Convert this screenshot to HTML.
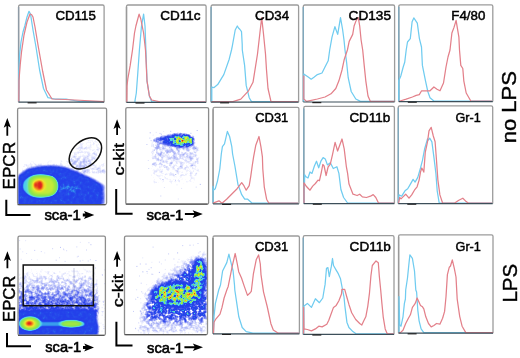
<!DOCTYPE html>
<html><head><meta charset="utf-8"><style>
html,body{margin:0;padding:0;background:#fff;}
body{width:520px;height:358px;overflow:hidden;}
svg{display:block;font-family:"Liberation Sans",sans-serif;will-change:transform;}
</style></head><body>
<svg width="520" height="358" viewBox="0 0 520 358">
<defs>
<filter id="jet" x="-5%" y="-5%" width="110%" height="110%" color-interpolation-filters="sRGB">
<feGaussianBlur stdDeviation="1.3"/>
<feColorMatrix type="matrix" values="0 0 0 1 0 0 0 0 1 0 0 0 0 1 0 0 0 0 1 0"/>
<feComponentTransfer>
<feFuncR type="table" tableValues=".16 .16 .16 .15 .14 .14 .14 .15 .18 .30 .40 .50 .55 .65 .78 .93 .96 .95 .93 .88 .85"/>
<feFuncG type="table" tableValues=".24 .24 .24 .24 .24 .25 .26 .30 .50 .80 .88 .90 .90 .91 .92 .90 .75 .55 .35 .18 .12"/>
<feFuncB type="table" tableValues=".92 .92 .92 .92 .92 .92 .92 .92 .93 .93 .75 .40 .30 .25 .22 .18 .15 .12 .12 .12 .12"/>
<feFuncA type="table" tableValues="0 .3 .55 .75 .9 1 1 1 1 1 1 1 1 1 1 1 1 1 1 1 1"/>
</feComponentTransfer>
</filter>
<filter id="jetn" x="-5%" y="-5%" width="110%" height="110%" color-interpolation-filters="sRGB">
<feTurbulence type="fractalNoise" baseFrequency="0.3" numOctaves="2" seed="4" result="n"/>
<feColorMatrix in="n" type="matrix" values="0 0 0 0 0 0 0 0 0 0 0 0 0 0 0 1 0 0 0 0" result="na"/>
<feGaussianBlur in="SourceGraphic" stdDeviation="1.0" result="b"/>
<feComposite in="b" in2="na" operator="arithmetic" k1="2.2" k2="0" k3="0" k4="-0.04"/>
<feColorMatrix type="matrix" values="0 0 0 1 0 0 0 0 1 0 0 0 0 1 0 0 0 0 1 0"/>
<feComponentTransfer>
<feFuncR type="table" tableValues=".16 .16 .16 .15 .14 .14 .14 .15 .18 .30 .40 .50 .55 .65 .78 .93 .96 .95 .93 .88 .85"/>
<feFuncG type="table" tableValues=".24 .24 .24 .24 .24 .25 .26 .30 .50 .80 .88 .90 .90 .91 .92 .90 .75 .55 .35 .18 .12"/>
<feFuncB type="table" tableValues=".92 .92 .92 .92 .92 .92 .92 .92 .93 .93 .75 .40 .30 .25 .22 .18 .15 .12 .12 .12 .12"/>
<feFuncA type="table" tableValues="0 .3 .55 .75 .9 1 1 1 1 1 1 1 1 1 1 1 1 1 1 1 1"/>
</feComponentTransfer>
</filter>
<filter id="jets" x="-5%" y="-5%" width="110%" height="110%" color-interpolation-filters="sRGB">
<feTurbulence type="fractalNoise" baseFrequency="0.3" numOctaves="2" seed="21" result="n"/>
<feColorMatrix in="n" type="matrix" values="0 0 0 0 0 0 0 0 0 0 0 0 0 0 0 1 0 0 0 0" result="na"/>
<feGaussianBlur in="SourceGraphic" stdDeviation="0.6" result="b"/>
<feComposite in="b" in2="na" operator="arithmetic" k1="4" k2="-1" k3="0" k4="-0.02"/>
<feColorMatrix type="matrix" values="0 0 0 1 0 0 0 0 1 0 0 0 0 1 0 0 0 0 1 0"/>
<feComponentTransfer>
<feFuncR type="table" tableValues=".16 .16 .16 .15 .14 .14 .14 .15 .18 .30 .40 .50 .55 .65 .78 .93 .96 .95 .93 .88 .85"/>
<feFuncG type="table" tableValues=".24 .24 .24 .24 .24 .25 .26 .30 .50 .80 .88 .90 .90 .91 .92 .90 .75 .55 .35 .18 .12"/>
<feFuncB type="table" tableValues=".92 .92 .92 .92 .92 .92 .92 .92 .93 .93 .75 .40 .30 .25 .22 .18 .15 .12 .12 .12 .12"/>
<feFuncA type="table" tableValues="0 .3 .55 .75 .9 1 1 1 1 1 1 1 1 1 1 1 1 1 1 1 1"/>
</feComponentTransfer>
</filter>
<filter id="jetm" x="-5%" y="-5%" width="110%" height="110%" color-interpolation-filters="sRGB">
<feTurbulence type="fractalNoise" baseFrequency="0.3" numOctaves="2" seed="9" result="n"/>
<feColorMatrix in="n" type="matrix" values="0 0 0 0 0 0 0 0 0 0 0 0 0 0 0 1 0 0 0 0" result="na"/>
<feGaussianBlur in="SourceGraphic" stdDeviation="1.0" result="b"/>
<feComposite in="b" in2="na" operator="arithmetic" k1="0.6" k2="0.7" k3="0" k4="-0.005"/>
<feColorMatrix type="matrix" values="0 0 0 1 0 0 0 0 1 0 0 0 0 1 0 0 0 0 1 0"/>
<feComponentTransfer>
<feFuncR type="table" tableValues=".16 .16 .16 .15 .14 .14 .14 .15 .18 .30 .40 .50 .55 .65 .78 .93 .96 .95 .93 .88 .85"/>
<feFuncG type="table" tableValues=".24 .24 .24 .24 .24 .25 .26 .30 .50 .80 .88 .90 .90 .91 .92 .90 .75 .55 .35 .18 .12"/>
<feFuncB type="table" tableValues=".92 .92 .92 .92 .92 .92 .92 .92 .93 .93 .75 .40 .30 .25 .22 .18 .15 .12 .12 .12 .12"/>
<feFuncA type="table" tableValues="0 .3 .55 .75 .9 1 1 1 1 1 1 1 1 1 1 1 1 1 1 1 1"/>
</feComponentTransfer>
</filter>

<clipPath id="c0"><rect x="18.2" y="108.8" width="87.8" height="95.2"/></clipPath>
<clipPath id="c1"><rect x="126.4" y="108.2" width="81.6" height="95.4"/></clipPath>
<clipPath id="c2"><rect x="18.6" y="236.8" width="86.2" height="97.9"/></clipPath>
<clipPath id="c3"><rect x="125.1" y="236.8" width="81.8" height="97.3"/></clipPath>
<linearGradient id="g3" x1="0" y1="0" x2="0" y2="1"><stop offset="0" stop-color="#000" stop-opacity="0.0"/><stop offset="0.2" stop-color="#000" stop-opacity="0.02"/><stop offset="0.5" stop-color="#000" stop-opacity="0.065"/><stop offset="0.8" stop-color="#000" stop-opacity="0.15"/><stop offset="1" stop-color="#000" stop-opacity="0.28"/></linearGradient>
<linearGradient id="gup" x1="0" y1="0" x2="0" y2="1"><stop offset="0" stop-color="#000" stop-opacity="0"/><stop offset="0.5" stop-color="#000" stop-opacity="0.015"/><stop offset="1" stop-color="#000" stop-opacity="0.07"/></linearGradient>
<filter id="bl" x="-10%" y="-10%" width="120%" height="120%"><feGaussianBlur stdDeviation="2"/></filter>
<linearGradient id="gdn" x1="0" y1="0" x2="0" y2="1"><stop offset="0" stop-color="#000" stop-opacity="0.06"/><stop offset="0.4" stop-color="#000" stop-opacity="0.035"/><stop offset="1" stop-color="#000" stop-opacity="0.0"/></linearGradient>
</defs>
<g clip-path="url(#c0)"><g filter="url(#jetn)"><g opacity="0.035"><ellipse cx="85.4" cy="153.4" rx="18" ry="12" transform="rotate(-42 85.4 153.4)"/></g><rect x="22" y="140" width="84" height="34" fill="url(#gup)"/></g></g>
<g clip-path="url(#c0)"><g filter="url(#jetm)"><g opacity="0.200" fill="#000"><path d="M88,178 C95,180 100,183 104,186 L104,204 L88,204 Z"/><path d="M17,205 L17,178 C22,172.5 27,169 34,167.5 C44,166 55,165.5 64,167.5 C74,170.5 84,175 92,179 C96,181 99,183 101,186 L101,205 Z"/><ellipse cx="67" cy="188.5" rx="14" ry="4"/></g><g opacity="0.150" fill="#000"><path d="M17,205 L17,178 C22,172.5 27,169 34,167.5 C44,166 55,165.5 64,167.5 C74,170.5 84,175 92,179 C96,181 99,183 101,186 L101,205 Z"/><ellipse cx="67" cy="188.5" rx="14" ry="4"/></g><g opacity="0.074" fill="#000"><ellipse cx="67" cy="188.5" rx="14" ry="4"/></g></g></g>
<g clip-path="url(#c0)"><g filter="url(#jet)"><g opacity="0.450" fill="#000"><ellipse cx="40.5" cy="186" rx="19" ry="13"/><rect x="27.5" y="175" width="30.5" height="22" rx="8.5"/><rect x="29.5" y="176" width="27.5" height="20" rx="8"/><rect x="31" y="178" width="23" height="16" rx="7"/><ellipse cx="39.5" cy="185.5" rx="6.5" ry="6.2"/><ellipse cx="38.5" cy="185.5" rx="4.6" ry="5.1"/><ellipse cx="40" cy="185.2" rx="2.0" ry="4.0"/><ellipse cx="35.4" cy="184.8" rx="1.3" ry="2.6"/></g><g opacity="0.182" fill="#000"><rect x="27.5" y="175" width="30.5" height="22" rx="8.5"/><rect x="29.5" y="176" width="27.5" height="20" rx="8"/><rect x="31" y="178" width="23" height="16" rx="7"/><ellipse cx="39.5" cy="185.5" rx="6.5" ry="6.2"/><ellipse cx="38.5" cy="185.5" rx="4.6" ry="5.1"/><ellipse cx="40" cy="185.2" rx="2.0" ry="4.0"/><ellipse cx="35.4" cy="184.8" rx="1.3" ry="2.6"/></g><g opacity="0.156" fill="#000"><rect x="29.5" y="176" width="27.5" height="20" rx="8"/><rect x="31" y="178" width="23" height="16" rx="7"/><ellipse cx="39.5" cy="185.5" rx="6.5" ry="6.2"/><ellipse cx="38.5" cy="185.5" rx="4.6" ry="5.1"/><ellipse cx="40" cy="185.2" rx="2.0" ry="4.0"/><ellipse cx="35.4" cy="184.8" rx="1.3" ry="2.6"/></g><g opacity="0.211" fill="#000"><rect x="31" y="178" width="23" height="16" rx="7"/><ellipse cx="39.5" cy="185.5" rx="6.5" ry="6.2"/><ellipse cx="38.5" cy="185.5" rx="4.6" ry="5.1"/><ellipse cx="40" cy="185.2" rx="2.0" ry="4.0"/><ellipse cx="35.4" cy="184.8" rx="1.3" ry="2.6"/></g><g opacity="0.233" fill="#000"><ellipse cx="39.5" cy="185.5" rx="6.5" ry="6.2"/><ellipse cx="38.5" cy="185.5" rx="4.6" ry="5.1"/><ellipse cx="40" cy="185.2" rx="2.0" ry="4.0"/><ellipse cx="35.4" cy="184.8" rx="1.3" ry="2.6"/></g><g opacity="0.435" fill="#000"><ellipse cx="38.5" cy="185.5" rx="4.6" ry="5.1"/><ellipse cx="40" cy="185.2" rx="2.0" ry="4.0"/><ellipse cx="35.4" cy="184.8" rx="1.3" ry="2.6"/></g><g opacity="1.000" fill="#000"><ellipse cx="40" cy="185.2" rx="2.0" ry="4.0"/><ellipse cx="35.4" cy="184.8" rx="1.3" ry="2.6"/></g></g></g>
<ellipse cx="85.4" cy="153.4" rx="18.6" ry="12.6" transform="rotate(-42 85.4 153.4)" fill="none" stroke="#111" stroke-width="1.5"/>
<g clip-path="url(#c1)"><g fill="#3c50e6"><rect x="156.6" y="147.4" width="1.0" height="1.0" opacity="0.24"/><rect x="196.7" y="130.0" width="1.0" height="1.0" opacity="0.37"/><rect x="160.0" y="137.3" width="1.0" height="1.0" opacity="0.34"/><rect x="165.1" y="151.3" width="1.0" height="1.0" opacity="0.13"/><rect x="194.9" y="148.0" width="1.0" height="1.0" opacity="0.32"/><rect x="155.7" y="181.9" width="1.0" height="1.0" opacity="0.17"/><rect x="186.4" y="144.6" width="1.0" height="1.0" opacity="0.37"/><rect x="172.6" y="135.4" width="1.0" height="1.0" opacity="0.36"/><rect x="163.9" y="187.0" width="1.0" height="1.0" opacity="0.14"/><rect x="159.5" y="140.1" width="1.0" height="1.0" opacity="0.29"/><rect x="191.9" y="165.1" width="1.0" height="1.0" opacity="0.34"/><rect x="175.0" y="179.8" width="1.0" height="1.0" opacity="0.26"/><rect x="161.4" y="164.1" width="1.0" height="1.0" opacity="0.23"/><rect x="146.4" y="144.0" width="1.0" height="1.0" opacity="0.31"/><rect x="176.1" y="148.0" width="1.0" height="1.0" opacity="0.26"/><rect x="177.3" y="141.5" width="1.0" height="1.0" opacity="0.29"/><rect x="169.6" y="179.3" width="1.0" height="1.0" opacity="0.16"/><rect x="149.3" y="137.6" width="1.0" height="1.0" opacity="0.27"/><rect x="169.7" y="144.0" width="1.0" height="1.0" opacity="0.25"/><rect x="169.5" y="133.6" width="1.0" height="1.0" opacity="0.21"/><rect x="175.2" y="174.0" width="1.0" height="1.0" opacity="0.38"/><rect x="163.1" y="131.0" width="1.0" height="1.0" opacity="0.11"/><rect x="199.8" y="183.9" width="1.0" height="1.0" opacity="0.40"/><rect x="148.2" y="168.0" width="1.0" height="1.0" opacity="0.23"/><rect x="189.8" y="147.2" width="1.0" height="1.0" opacity="0.37"/><rect x="171.1" y="156.6" width="1.0" height="1.0" opacity="0.36"/><rect x="192.3" y="135.5" width="1.0" height="1.0" opacity="0.30"/><rect x="187.3" y="150.4" width="1.0" height="1.0" opacity="0.21"/><rect x="189.3" y="156.4" width="1.0" height="1.0" opacity="0.31"/><rect x="193.1" y="136.1" width="1.0" height="1.0" opacity="0.32"/><rect x="151.6" y="143.3" width="1.0" height="1.0" opacity="0.17"/><rect x="156.3" y="150.2" width="1.0" height="1.0" opacity="0.33"/><rect x="182.0" y="141.3" width="1.0" height="1.0" opacity="0.20"/><rect x="164.0" y="152.4" width="1.0" height="1.0" opacity="0.19"/><rect x="185.7" y="148.5" width="1.0" height="1.0" opacity="0.32"/><rect x="150.6" y="140.1" width="1.0" height="1.0" opacity="0.30"/><rect x="196.1" y="172.7" width="1.0" height="1.0" opacity="0.17"/><rect x="185.3" y="173.8" width="1.0" height="1.0" opacity="0.20"/><rect x="166.5" y="166.0" width="1.0" height="1.0" opacity="0.31"/><rect x="183.3" y="144.2" width="1.0" height="1.0" opacity="0.17"/><rect x="149.7" y="132.3" width="1.0" height="1.0" opacity="0.40"/><rect x="181.1" y="187.9" width="1.0" height="1.0" opacity="0.16"/><rect x="175.7" y="158.6" width="1.0" height="1.0" opacity="0.31"/><rect x="169.1" y="147.0" width="1.0" height="1.0" opacity="0.37"/><rect x="177.8" y="198.5" width="1.0" height="1.0" opacity="0.17"/><rect x="163.3" y="153.4" width="1.0" height="1.0" opacity="0.37"/><rect x="180.7" y="133.3" width="1.0" height="1.0" opacity="0.37"/><rect x="172.2" y="135.7" width="1.0" height="1.0" opacity="0.19"/><rect x="188.3" y="144.1" width="1.0" height="1.0" opacity="0.17"/><rect x="177.2" y="168.2" width="1.0" height="1.0" opacity="0.28"/><rect x="180.4" y="165.9" width="1.0" height="1.0" opacity="0.28"/><rect x="156.0" y="140.9" width="1.0" height="1.0" opacity="0.25"/><rect x="195.7" y="186.6" width="1.0" height="1.0" opacity="0.22"/><rect x="190.4" y="132.8" width="1.0" height="1.0" opacity="0.37"/><rect x="170.9" y="135.5" width="1.0" height="1.0" opacity="0.40"/><rect x="155.0" y="144.7" width="1.0" height="1.0" opacity="0.24"/><rect x="167.1" y="149.8" width="1.0" height="1.0" opacity="0.15"/><rect x="192.0" y="167.4" width="1.0" height="1.0" opacity="0.22"/><rect x="159.5" y="132.9" width="1.0" height="1.0" opacity="0.28"/><rect x="166.0" y="145.5" width="1.0" height="1.0" opacity="0.11"/><rect x="159.3" y="175.5" width="1.0" height="1.0" opacity="0.23"/><rect x="178.7" y="180.4" width="1.0" height="1.0" opacity="0.22"/><rect x="160.2" y="153.4" width="1.0" height="1.0" opacity="0.25"/><rect x="152.7" y="134.6" width="1.0" height="1.0" opacity="0.13"/><rect x="159.1" y="143.3" width="1.0" height="1.0" opacity="0.28"/><rect x="193.8" y="140.6" width="1.0" height="1.0" opacity="0.13"/><rect x="152.3" y="153.3" width="1.0" height="1.0" opacity="0.27"/><rect x="160.8" y="133.7" width="1.0" height="1.0" opacity="0.37"/><rect x="163.9" y="135.6" width="1.0" height="1.0" opacity="0.25"/><rect x="155.7" y="131.9" width="1.0" height="1.0" opacity="0.14"/><rect x="163.9" y="167.0" width="1.0" height="1.0" opacity="0.16"/><rect x="160.3" y="195.5" width="1.0" height="1.0" opacity="0.27"/><rect x="155.8" y="137.6" width="1.0" height="1.0" opacity="0.21"/><rect x="154.3" y="156.3" width="1.0" height="1.0" opacity="0.11"/><rect x="187.4" y="143.0" width="1.0" height="1.0" opacity="0.31"/><rect x="173.5" y="139.3" width="1.0" height="1.0" opacity="0.38"/><rect x="181.7" y="162.3" width="1.0" height="1.0" opacity="0.23"/><rect x="159.9" y="159.6" width="1.0" height="1.0" opacity="0.37"/><rect x="157.8" y="156.6" width="1.0" height="1.0" opacity="0.22"/><rect x="190.3" y="136.0" width="1.0" height="1.0" opacity="0.29"/><rect x="152.3" y="163.7" width="1.0" height="1.0" opacity="0.36"/><rect x="170.2" y="133.9" width="1.0" height="1.0" opacity="0.24"/><rect x="170.2" y="130.8" width="1.0" height="1.0" opacity="0.35"/><rect x="177.4" y="132.1" width="1.0" height="1.0" opacity="0.19"/><rect x="147.8" y="160.0" width="1.0" height="1.0" opacity="0.18"/><rect x="171.3" y="162.5" width="1.0" height="1.0" opacity="0.35"/><rect x="169.4" y="146.0" width="1.0" height="1.0" opacity="0.21"/><rect x="190.7" y="165.1" width="1.0" height="1.0" opacity="0.22"/><rect x="176.5" y="184.3" width="1.0" height="1.0" opacity="0.13"/><rect x="162.4" y="179.0" width="1.0" height="1.0" opacity="0.40"/></g></g>
<g clip-path="url(#c1)"><g filter="url(#jets)"><g filter="url(#bl)"><path d="M152,150 C150,141 156,138 165,139 C180,141 194,143 199,147 L199,198 L150,198 Z" fill="url(#gdn)"/></g></g></g>
<g clip-path="url(#c1)"><g filter="url(#jetn)"><g opacity="0.160" fill="#000"><path d="M152,140 C158,137 166,134.5 174,134 C181,133.2 188,133.5 192,136.5 C195,139 196,142 195,144.5 C191,147 185,148 179.5,147.6 C173,147 166,145 160,143 C156,142 153,141 152,140 Z"/><path d="M160,140 C166,136.5 172,134.5 178,134.2 C184,134 189,135 192,137.5 C194,140 194,143 192,145 C186,147 180,147.2 175,146.5 C170,145.5 165,143.5 160,140 Z"/><ellipse cx="181" cy="140.5" rx="12.5" ry="5.4"/><ellipse cx="182" cy="140.6" rx="10" ry="4.3"/><ellipse cx="184" cy="140.6" rx="5.5" ry="2.6"/><ellipse cx="185" cy="140.8" rx="3.2" ry="1.7"/></g><g opacity="0.131" fill="#000"><path d="M160,140 C166,136.5 172,134.5 178,134.2 C184,134 189,135 192,137.5 C194,140 194,143 192,145 C186,147 180,147.2 175,146.5 C170,145.5 165,143.5 160,140 Z"/><ellipse cx="181" cy="140.5" rx="12.5" ry="5.4"/><ellipse cx="182" cy="140.6" rx="10" ry="4.3"/><ellipse cx="184" cy="140.6" rx="5.5" ry="2.6"/><ellipse cx="185" cy="140.8" rx="3.2" ry="1.7"/></g><g opacity="0.178" fill="#000"><ellipse cx="181" cy="140.5" rx="12.5" ry="5.4"/><ellipse cx="182" cy="140.6" rx="10" ry="4.3"/><ellipse cx="184" cy="140.6" rx="5.5" ry="2.6"/><ellipse cx="185" cy="140.8" rx="3.2" ry="1.7"/></g><g opacity="0.200" fill="#000"><ellipse cx="182" cy="140.6" rx="10" ry="4.3"/><ellipse cx="184" cy="140.6" rx="5.5" ry="2.6"/><ellipse cx="185" cy="140.8" rx="3.2" ry="1.7"/></g><g opacity="0.208" fill="#000"><ellipse cx="184" cy="140.6" rx="5.5" ry="2.6"/><ellipse cx="185" cy="140.8" rx="3.2" ry="1.7"/></g><g opacity="0.158" fill="#000"><ellipse cx="185" cy="140.8" rx="3.2" ry="1.7"/></g></g></g>
<g clip-path="url(#c2)"><g fill="#3c50e6"><rect x="103.6" y="326.2" width="1.0" height="1.0" opacity="0.30"/><rect x="76.3" y="246.4" width="1.0" height="1.0" opacity="0.24"/><rect x="82.3" y="259.9" width="1.0" height="1.0" opacity="0.15"/><rect x="59.0" y="257.2" width="1.0" height="1.0" opacity="0.18"/><rect x="99.2" y="300.6" width="1.0" height="1.0" opacity="0.27"/><rect x="97.9" y="318.5" width="1.0" height="1.0" opacity="0.16"/><rect x="31.1" y="259.0" width="1.0" height="1.0" opacity="0.14"/><rect x="19.1" y="240.1" width="1.0" height="1.0" opacity="0.18"/><rect x="95.4" y="260.0" width="1.0" height="1.0" opacity="0.32"/><rect x="95.6" y="310.4" width="1.0" height="1.0" opacity="0.27"/><rect x="34.2" y="249.9" width="1.0" height="1.0" opacity="0.29"/><rect x="95.1" y="327.9" width="1.0" height="1.0" opacity="0.21"/><rect x="104.3" y="269.4" width="1.0" height="1.0" opacity="0.12"/><rect x="66.1" y="250.2" width="1.0" height="1.0" opacity="0.20"/><rect x="104.1" y="283.2" width="1.0" height="1.0" opacity="0.25"/><rect x="36.8" y="259.3" width="1.0" height="1.0" opacity="0.11"/><rect x="52.1" y="248.2" width="1.0" height="1.0" opacity="0.25"/><rect x="102.0" y="274.6" width="1.0" height="1.0" opacity="0.28"/><rect x="40.8" y="251.1" width="1.0" height="1.0" opacity="0.23"/><rect x="89.9" y="259.2" width="1.0" height="1.0" opacity="0.21"/><rect x="95.8" y="326.8" width="1.0" height="1.0" opacity="0.34"/><rect x="79.7" y="260.5" width="1.0" height="1.0" opacity="0.32"/><rect x="104.2" y="269.3" width="1.0" height="1.0" opacity="0.13"/><rect x="102.6" y="311.0" width="1.0" height="1.0" opacity="0.18"/><rect x="103.3" y="304.3" width="1.0" height="1.0" opacity="0.27"/><rect x="79.8" y="241.9" width="1.0" height="1.0" opacity="0.15"/><rect x="88.4" y="242.2" width="1.0" height="1.0" opacity="0.24"/><rect x="90.4" y="244.2" width="1.0" height="1.0" opacity="0.35"/><rect x="102.7" y="300.9" width="1.0" height="1.0" opacity="0.31"/><rect x="97.9" y="331.1" width="1.0" height="1.0" opacity="0.29"/><rect x="101.6" y="311.0" width="1.0" height="1.0" opacity="0.20"/><rect x="98.7" y="326.2" width="1.0" height="1.0" opacity="0.30"/><rect x="95.0" y="267.5" width="1.0" height="1.0" opacity="0.26"/><rect x="26.1" y="253.0" width="1.0" height="1.0" opacity="0.14"/><rect x="100.4" y="322.7" width="1.0" height="1.0" opacity="0.10"/><rect x="97.9" y="303.9" width="1.0" height="1.0" opacity="0.29"/><rect x="97.2" y="315.3" width="1.0" height="1.0" opacity="0.26"/><rect x="63.0" y="248.6" width="1.0" height="1.0" opacity="0.25"/><rect x="87.7" y="260.5" width="1.0" height="1.0" opacity="0.25"/><rect x="104.0" y="307.9" width="1.0" height="1.0" opacity="0.14"/><rect x="98.8" y="322.5" width="1.0" height="1.0" opacity="0.12"/><rect x="104.4" y="319.3" width="1.0" height="1.0" opacity="0.21"/><rect x="102.9" y="301.9" width="1.0" height="1.0" opacity="0.24"/><rect x="64.6" y="260.9" width="1.0" height="1.0" opacity="0.23"/><rect x="96.2" y="312.8" width="1.0" height="1.0" opacity="0.15"/><rect x="60.0" y="246.9" width="1.0" height="1.0" opacity="0.35"/><rect x="101.5" y="330.6" width="1.0" height="1.0" opacity="0.13"/><rect x="98.4" y="295.1" width="1.0" height="1.0" opacity="0.26"/><rect x="95.2" y="314.8" width="1.0" height="1.0" opacity="0.30"/><rect x="97.7" y="333.7" width="1.0" height="1.0" opacity="0.10"/><rect x="102.6" y="324.3" width="1.0" height="1.0" opacity="0.19"/><rect x="25.1" y="240.2" width="1.0" height="1.0" opacity="0.15"/><rect x="44.2" y="252.4" width="1.0" height="1.0" opacity="0.13"/><rect x="101.7" y="307.1" width="1.0" height="1.0" opacity="0.16"/><rect x="20.7" y="258.8" width="1.0" height="1.0" opacity="0.15"/><rect x="19.7" y="248.5" width="1.0" height="1.0" opacity="0.19"/><rect x="63.6" y="249.4" width="1.0" height="1.0" opacity="0.15"/><rect x="104.6" y="316.7" width="1.0" height="1.0" opacity="0.27"/><rect x="77.7" y="255.8" width="1.0" height="1.0" opacity="0.30"/><rect x="103.5" y="328.1" width="1.0" height="1.0" opacity="0.34"/><rect x="97.9" y="302.2" width="1.0" height="1.0" opacity="0.11"/><rect x="104.8" y="331.2" width="1.0" height="1.0" opacity="0.21"/><rect x="101.7" y="314.7" width="1.0" height="1.0" opacity="0.19"/><rect x="22.2" y="251.3" width="1.0" height="1.0" opacity="0.14"/><rect x="55.7" y="259.7" width="1.0" height="1.0" opacity="0.31"/><rect x="101.7" y="274.2" width="1.0" height="1.0" opacity="0.15"/><rect x="76.8" y="256.5" width="1.0" height="1.0" opacity="0.16"/><rect x="86.0" y="249.5" width="1.0" height="1.0" opacity="0.26"/><rect x="103.8" y="300.4" width="1.0" height="1.0" opacity="0.19"/><rect x="102.2" y="312.3" width="1.0" height="1.0" opacity="0.16"/></g></g>
<g clip-path="url(#c2)"><g filter="url(#jets)"><g filter="url(#bl)"><rect x="17" y="262" width="80" height="54" fill="url(#g3)"/></g></g></g>
<g clip-path="url(#c2)"><g filter="url(#jetn)"><rect x="17" y="262" width="80" height="54" fill="url(#g3)" opacity="0.5"/></g></g>
<g clip-path="url(#c2)"><g filter="url(#jetm)"><g opacity="0.320" fill="#000"><path d="M17,336 L17,311 C40,309.5 70,309.5 95,310 C97,316 96,322 98,327 C98,331 97,334 97,336 Z"/></g></g></g>
<g clip-path="url(#c2)"><g filter="url(#jet)"><g opacity="0.420" fill="#000"><ellipse cx="30" cy="323.5" rx="12.5" ry="8.5"/><rect x="38" y="320.5" width="48" height="7" rx="3.5"/><ellipse cx="71" cy="323.8" rx="15" ry="5"/><ellipse cx="30" cy="323.6" rx="11" ry="7.2"/><ellipse cx="71.5" cy="323.8" rx="12" ry="3.8"/><ellipse cx="30" cy="323.7" rx="9" ry="6"/><ellipse cx="71.5" cy="323.9" rx="9.5" ry="2.6"/><ellipse cx="29.8" cy="323.6" rx="6" ry="4"/><ellipse cx="29.5" cy="323.4" rx="3.8" ry="2.5"/><ellipse cx="29.2" cy="323.3" rx="2.4" ry="1.5"/></g><g opacity="0.172" fill="#000"><ellipse cx="30" cy="323.6" rx="11" ry="7.2"/><ellipse cx="71.5" cy="323.8" rx="12" ry="3.8"/><ellipse cx="30" cy="323.7" rx="9" ry="6"/><ellipse cx="71.5" cy="323.9" rx="9.5" ry="2.6"/><ellipse cx="29.8" cy="323.6" rx="6" ry="4"/><ellipse cx="29.5" cy="323.4" rx="3.8" ry="2.5"/><ellipse cx="29.2" cy="323.3" rx="2.4" ry="1.5"/></g><g opacity="0.250" fill="#000"><ellipse cx="30" cy="323.7" rx="9" ry="6"/><ellipse cx="71.5" cy="323.9" rx="9.5" ry="2.6"/><ellipse cx="29.8" cy="323.6" rx="6" ry="4"/><ellipse cx="29.5" cy="323.4" rx="3.8" ry="2.5"/><ellipse cx="29.2" cy="323.3" rx="2.4" ry="1.5"/></g><g opacity="0.333" fill="#000"><ellipse cx="29.8" cy="323.6" rx="6" ry="4"/><ellipse cx="29.5" cy="323.4" rx="3.8" ry="2.5"/><ellipse cx="29.2" cy="323.3" rx="2.4" ry="1.5"/></g><g opacity="0.500" fill="#000"><ellipse cx="29.5" cy="323.4" rx="3.8" ry="2.5"/><ellipse cx="29.2" cy="323.3" rx="2.4" ry="1.5"/></g><g opacity="1.000" fill="#000"><ellipse cx="29.2" cy="323.3" rx="2.4" ry="1.5"/></g></g></g>
<line x1="74" y1="268" x2="74" y2="305" stroke="#9aa0c8" stroke-width="0.8" opacity="0.7"/>
<rect x="23.2" y="265" width="70.2" height="40.7" fill="none" stroke="#111" stroke-width="1.5"/>
<g clip-path="url(#c3)"><g fill="#3c50e6"><rect x="188.5" y="302.5" width="1.0" height="1.0" opacity="0.10"/><rect x="140.7" y="282.7" width="1.0" height="1.0" opacity="0.28"/><rect x="157.0" y="313.2" width="1.0" height="1.0" opacity="0.18"/><rect x="192.5" y="320.6" width="1.0" height="1.0" opacity="0.19"/><rect x="182.2" y="277.6" width="1.0" height="1.0" opacity="0.18"/><rect x="189.4" y="310.0" width="1.0" height="1.0" opacity="0.19"/><rect x="151.4" y="261.8" width="1.0" height="1.0" opacity="0.12"/><rect x="200.9" y="324.0" width="1.0" height="1.0" opacity="0.30"/><rect x="164.8" y="259.5" width="1.0" height="1.0" opacity="0.20"/><rect x="140.5" y="332.4" width="1.0" height="1.0" opacity="0.26"/><rect x="190.0" y="285.6" width="1.0" height="1.0" opacity="0.19"/><rect x="161.7" y="276.3" width="1.0" height="1.0" opacity="0.37"/><rect x="183.2" y="275.2" width="1.0" height="1.0" opacity="0.33"/><rect x="193.6" y="314.2" width="1.0" height="1.0" opacity="0.14"/><rect x="205.0" y="274.6" width="1.0" height="1.0" opacity="0.32"/><rect x="142.3" y="271.3" width="1.0" height="1.0" opacity="0.30"/><rect x="152.6" y="246.6" width="1.0" height="1.0" opacity="0.29"/><rect x="150.7" y="267.2" width="1.0" height="1.0" opacity="0.34"/><rect x="171.4" y="279.3" width="1.0" height="1.0" opacity="0.15"/><rect x="196.7" y="313.9" width="1.0" height="1.0" opacity="0.13"/><rect x="204.8" y="270.7" width="1.0" height="1.0" opacity="0.22"/><rect x="164.8" y="268.9" width="1.0" height="1.0" opacity="0.14"/><rect x="148.0" y="332.7" width="1.0" height="1.0" opacity="0.27"/><rect x="136.1" y="289.3" width="1.0" height="1.0" opacity="0.19"/><rect x="173.4" y="258.5" width="1.0" height="1.0" opacity="0.24"/><rect x="199.4" y="321.6" width="1.0" height="1.0" opacity="0.27"/><rect x="146.5" y="271.0" width="1.0" height="1.0" opacity="0.32"/><rect x="168.0" y="272.8" width="1.0" height="1.0" opacity="0.20"/><rect x="145.5" y="263.6" width="1.0" height="1.0" opacity="0.33"/><rect x="156.6" y="324.6" width="1.0" height="1.0" opacity="0.23"/><rect x="202.5" y="269.7" width="1.0" height="1.0" opacity="0.15"/><rect x="197.9" y="319.4" width="1.0" height="1.0" opacity="0.15"/><rect x="158.9" y="261.6" width="1.0" height="1.0" opacity="0.23"/><rect x="174.8" y="277.7" width="1.0" height="1.0" opacity="0.33"/><rect x="168.1" y="253.4" width="1.0" height="1.0" opacity="0.31"/><rect x="206.4" y="290.1" width="1.0" height="1.0" opacity="0.31"/><rect x="142.5" y="271.5" width="1.0" height="1.0" opacity="0.10"/><rect x="137.8" y="329.7" width="1.0" height="1.0" opacity="0.27"/><rect x="164.8" y="299.2" width="1.0" height="1.0" opacity="0.16"/><rect x="193.4" y="325.1" width="1.0" height="1.0" opacity="0.34"/><rect x="135.0" y="298.4" width="1.0" height="1.0" opacity="0.14"/><rect x="192.9" y="244.6" width="1.0" height="1.0" opacity="0.20"/><rect x="197.3" y="308.3" width="1.0" height="1.0" opacity="0.33"/><rect x="137.3" y="296.9" width="1.0" height="1.0" opacity="0.32"/><rect x="184.2" y="306.8" width="1.0" height="1.0" opacity="0.12"/><rect x="206.1" y="323.4" width="1.0" height="1.0" opacity="0.30"/><rect x="142.4" y="292.7" width="1.0" height="1.0" opacity="0.18"/><rect x="146.1" y="284.1" width="1.0" height="1.0" opacity="0.10"/><rect x="204.9" y="327.5" width="1.0" height="1.0" opacity="0.20"/><rect x="193.9" y="264.5" width="1.0" height="1.0" opacity="0.32"/><rect x="177.1" y="252.4" width="1.0" height="1.0" opacity="0.40"/><rect x="197.1" y="288.3" width="1.0" height="1.0" opacity="0.20"/><rect x="174.8" y="282.1" width="1.0" height="1.0" opacity="0.13"/><rect x="149.4" y="295.4" width="1.0" height="1.0" opacity="0.14"/><rect x="196.2" y="269.8" width="1.0" height="1.0" opacity="0.20"/><rect x="141.2" y="291.3" width="1.0" height="1.0" opacity="0.27"/><rect x="196.7" y="258.6" width="1.0" height="1.0" opacity="0.34"/><rect x="198.8" y="309.8" width="1.0" height="1.0" opacity="0.27"/><rect x="173.3" y="331.0" width="1.0" height="1.0" opacity="0.16"/><rect x="170.5" y="314.7" width="1.0" height="1.0" opacity="0.39"/><rect x="146.9" y="330.7" width="1.0" height="1.0" opacity="0.11"/><rect x="150.2" y="291.2" width="1.0" height="1.0" opacity="0.18"/><rect x="194.8" y="272.2" width="1.0" height="1.0" opacity="0.32"/><rect x="195.2" y="290.1" width="1.0" height="1.0" opacity="0.31"/><rect x="179.1" y="304.2" width="1.0" height="1.0" opacity="0.38"/><rect x="136.4" y="265.9" width="1.0" height="1.0" opacity="0.37"/><rect x="165.5" y="292.7" width="1.0" height="1.0" opacity="0.16"/><rect x="188.6" y="305.7" width="1.0" height="1.0" opacity="0.25"/><rect x="178.5" y="258.9" width="1.0" height="1.0" opacity="0.17"/><rect x="180.2" y="300.8" width="1.0" height="1.0" opacity="0.39"/><rect x="172.8" y="278.2" width="1.0" height="1.0" opacity="0.33"/><rect x="174.4" y="264.4" width="1.0" height="1.0" opacity="0.23"/><rect x="138.3" y="331.3" width="1.0" height="1.0" opacity="0.12"/><rect x="177.3" y="321.3" width="1.0" height="1.0" opacity="0.34"/><rect x="200.0" y="268.0" width="1.0" height="1.0" opacity="0.36"/><rect x="189.5" y="244.7" width="1.0" height="1.0" opacity="0.35"/><rect x="190.3" y="283.5" width="1.0" height="1.0" opacity="0.22"/><rect x="205.3" y="284.8" width="1.0" height="1.0" opacity="0.13"/><rect x="167.7" y="282.4" width="1.0" height="1.0" opacity="0.31"/><rect x="148.5" y="268.9" width="1.0" height="1.0" opacity="0.23"/><rect x="186.3" y="292.2" width="1.0" height="1.0" opacity="0.21"/><rect x="202.3" y="258.5" width="1.0" height="1.0" opacity="0.21"/><rect x="151.3" y="323.5" width="1.0" height="1.0" opacity="0.29"/><rect x="163.3" y="317.9" width="1.0" height="1.0" opacity="0.16"/><rect x="173.4" y="323.0" width="1.0" height="1.0" opacity="0.18"/><rect x="158.9" y="271.9" width="1.0" height="1.0" opacity="0.39"/><rect x="139.0" y="275.5" width="1.0" height="1.0" opacity="0.21"/><rect x="164.9" y="327.1" width="1.0" height="1.0" opacity="0.13"/><rect x="152.5" y="273.9" width="1.0" height="1.0" opacity="0.12"/><rect x="185.1" y="310.1" width="1.0" height="1.0" opacity="0.19"/><rect x="142.2" y="257.4" width="1.0" height="1.0" opacity="0.14"/><rect x="162.8" y="333.1" width="1.0" height="1.0" opacity="0.19"/><rect x="170.7" y="279.3" width="1.0" height="1.0" opacity="0.37"/><rect x="188.4" y="287.6" width="1.0" height="1.0" opacity="0.11"/><rect x="141.1" y="313.4" width="1.0" height="1.0" opacity="0.34"/><rect x="149.1" y="319.0" width="1.0" height="1.0" opacity="0.34"/><rect x="177.7" y="277.3" width="1.0" height="1.0" opacity="0.27"/><rect x="185.1" y="283.7" width="1.0" height="1.0" opacity="0.39"/><rect x="205.5" y="301.6" width="1.0" height="1.0" opacity="0.11"/><rect x="176.4" y="296.6" width="1.0" height="1.0" opacity="0.21"/><rect x="168.0" y="321.6" width="1.0" height="1.0" opacity="0.20"/><rect x="183.2" y="287.7" width="1.0" height="1.0" opacity="0.12"/><rect x="140.1" y="298.2" width="1.0" height="1.0" opacity="0.12"/><rect x="133.0" y="310.9" width="1.0" height="1.0" opacity="0.29"/><rect x="170.1" y="300.6" width="1.0" height="1.0" opacity="0.23"/><rect x="146.7" y="318.2" width="1.0" height="1.0" opacity="0.22"/><rect x="140.4" y="302.4" width="1.0" height="1.0" opacity="0.17"/><rect x="153.7" y="293.7" width="1.0" height="1.0" opacity="0.18"/><rect x="160.9" y="263.4" width="1.0" height="1.0" opacity="0.16"/><rect x="154.9" y="293.3" width="1.0" height="1.0" opacity="0.23"/><rect x="197.5" y="243.0" width="1.0" height="1.0" opacity="0.27"/><rect x="188.0" y="289.9" width="1.0" height="1.0" opacity="0.31"/><rect x="201.4" y="298.5" width="1.0" height="1.0" opacity="0.37"/><rect x="172.0" y="277.8" width="1.0" height="1.0" opacity="0.18"/><rect x="190.0" y="275.7" width="1.0" height="1.0" opacity="0.13"/><rect x="139.8" y="263.5" width="1.0" height="1.0" opacity="0.33"/><rect x="190.4" y="292.0" width="1.0" height="1.0" opacity="0.39"/><rect x="168.6" y="274.2" width="1.0" height="1.0" opacity="0.25"/><rect x="190.9" y="304.0" width="1.0" height="1.0" opacity="0.29"/><rect x="151.4" y="322.9" width="1.0" height="1.0" opacity="0.35"/><rect x="151.9" y="329.9" width="1.0" height="1.0" opacity="0.31"/><rect x="187.3" y="264.6" width="1.0" height="1.0" opacity="0.39"/><rect x="135.2" y="328.3" width="1.0" height="1.0" opacity="0.18"/><rect x="172.8" y="279.2" width="1.0" height="1.0" opacity="0.12"/><rect x="172.1" y="315.1" width="1.0" height="1.0" opacity="0.16"/><rect x="203.4" y="324.3" width="1.0" height="1.0" opacity="0.12"/><rect x="197.7" y="317.7" width="1.0" height="1.0" opacity="0.15"/><rect x="194.3" y="279.5" width="1.0" height="1.0" opacity="0.36"/><rect x="186.7" y="315.4" width="1.0" height="1.0" opacity="0.33"/><rect x="187.3" y="275.9" width="1.0" height="1.0" opacity="0.23"/><rect x="151.5" y="273.7" width="1.0" height="1.0" opacity="0.37"/><rect x="194.6" y="259.8" width="1.0" height="1.0" opacity="0.11"/><rect x="172.3" y="331.2" width="1.0" height="1.0" opacity="0.12"/><rect x="196.9" y="331.4" width="1.0" height="1.0" opacity="0.28"/><rect x="153.1" y="330.2" width="1.0" height="1.0" opacity="0.14"/><rect x="187.9" y="314.1" width="1.0" height="1.0" opacity="0.19"/><rect x="146.8" y="272.7" width="1.0" height="1.0" opacity="0.17"/><rect x="148.9" y="315.4" width="1.0" height="1.0" opacity="0.29"/><rect x="195.4" y="290.6" width="1.0" height="1.0" opacity="0.18"/><rect x="185.2" y="294.0" width="1.0" height="1.0" opacity="0.33"/><rect x="198.2" y="287.9" width="1.0" height="1.0" opacity="0.16"/><rect x="140.1" y="310.5" width="1.0" height="1.0" opacity="0.35"/><rect x="182.2" y="245.1" width="1.0" height="1.0" opacity="0.29"/><rect x="135.3" y="299.0" width="1.0" height="1.0" opacity="0.15"/><rect x="166.9" y="321.6" width="1.0" height="1.0" opacity="0.13"/><rect x="190.9" y="298.0" width="1.0" height="1.0" opacity="0.30"/><rect x="177.4" y="261.6" width="1.0" height="1.0" opacity="0.20"/><rect x="171.0" y="297.6" width="1.0" height="1.0" opacity="0.13"/><rect x="135.0" y="327.8" width="1.0" height="1.0" opacity="0.26"/><rect x="143.7" y="306.6" width="1.0" height="1.0" opacity="0.35"/></g></g>
<g clip-path="url(#c3)"><g filter="url(#jets)"><g filter="url(#bl)"><g opacity="0.045" fill="#000"><path d="M138,333 C139,318 141,303 146,292 C153,281 166,272 179,264 C189,257 198,252 206,250 L206,333 Z"/><path d="M146,318 C146,307 148,298 153,291 C161,285 174,279 185,270 C191,264 197,260 206,259 L206,321 C190,322 170,322 150,321 Z"/><path d="M151,312 C151,303 153,295 161,289 C171,284 183,277 190,268 C194,263 200,261 206,261 L206,314 C190,316 170,316 155,315 Z"/></g><g opacity="0.110" fill="#000"><path d="M146,318 C146,307 148,298 153,291 C161,285 174,279 185,270 C191,264 197,260 206,259 L206,321 C190,322 170,322 150,321 Z"/><path d="M151,312 C151,303 153,295 161,289 C171,284 183,277 190,268 C194,263 200,261 206,261 L206,314 C190,316 170,316 155,315 Z"/></g><g opacity="0.129" fill="#000"><path d="M151,312 C151,303 153,295 161,289 C171,284 183,277 190,268 C194,263 200,261 206,261 L206,314 C190,316 170,316 155,315 Z"/></g></g></g></g>
<g clip-path="url(#c3)"><g filter="url(#jetn)"><g filter="url(#bl)"><g opacity="0.300" fill="#000"><ellipse cx="177" cy="294.5" rx="26" ry="13"/><ellipse cx="199" cy="276" rx="7" ry="18"/><ellipse cx="177.5" cy="294.5" rx="24" ry="11"/><ellipse cx="199" cy="276" rx="5.5" ry="16"/><ellipse cx="178" cy="295" rx="21" ry="9"/><ellipse cx="199.5" cy="275" rx="4.2" ry="13"/><ellipse cx="186" cy="295" rx="11" ry="6"/><ellipse cx="167" cy="294" rx="9" ry="5"/><ellipse cx="200" cy="270" rx="3" ry="7"/><ellipse cx="190" cy="296" rx="4" ry="3"/></g><g opacity="0.214" fill="#000"><ellipse cx="177.5" cy="294.5" rx="24" ry="11"/><ellipse cx="199" cy="276" rx="5.5" ry="16"/><ellipse cx="178" cy="295" rx="21" ry="9"/><ellipse cx="199.5" cy="275" rx="4.2" ry="13"/><ellipse cx="186" cy="295" rx="11" ry="6"/><ellipse cx="167" cy="294" rx="9" ry="5"/><ellipse cx="200" cy="270" rx="3" ry="7"/><ellipse cx="190" cy="296" rx="4" ry="3"/></g><g opacity="0.127" fill="#000"><ellipse cx="178" cy="295" rx="21" ry="9"/><ellipse cx="199.5" cy="275" rx="4.2" ry="13"/><ellipse cx="186" cy="295" rx="11" ry="6"/><ellipse cx="167" cy="294" rx="9" ry="5"/><ellipse cx="200" cy="270" rx="3" ry="7"/><ellipse cx="190" cy="296" rx="4" ry="3"/></g><g opacity="0.104" fill="#000"><ellipse cx="186" cy="295" rx="11" ry="6"/><ellipse cx="167" cy="294" rx="9" ry="5"/><ellipse cx="200" cy="270" rx="3" ry="7"/><ellipse cx="190" cy="296" rx="4" ry="3"/></g><g opacity="0.093" fill="#000"><ellipse cx="190" cy="296" rx="4" ry="3"/></g></g></g></g>
<rect x="17.6" y="108.2" width="89.0" height="96.4" rx="1.5" fill="none" stroke="#8c8c8c" stroke-width="1.3"/>
<line x1="17.6" y1="204.6" x2="105.6" y2="204.6" stroke="#555" stroke-width="1.2"/>
<rect x="125.8" y="107.6" width="82.8" height="96.6" rx="1.5" fill="none" stroke="#8c8c8c" stroke-width="1.3"/>
<line x1="125.8" y1="204.2" x2="207.6" y2="204.2" stroke="#555" stroke-width="1.2"/>
<rect x="18.0" y="236.2" width="87.4" height="99.1" rx="1.5" fill="none" stroke="#8c8c8c" stroke-width="1.3"/>
<line x1="18.0" y1="335.3" x2="104.4" y2="335.3" stroke="#555" stroke-width="1.2"/>
<rect x="124.5" y="236.2" width="83.0" height="98.5" rx="1.5" fill="none" stroke="#8c8c8c" stroke-width="1.3"/>
<line x1="124.5" y1="334.7" x2="206.5" y2="334.7" stroke="#555" stroke-width="1.2"/>
<path d="M18.6,102.2 V6.5 Q18.6,5.0 20.1,5.0 H102.6 Q104.1,5.0 104.1,6.5 V102.2" fill="none" stroke="#9c9c9c" stroke-width="1.3"/>
<line x1="18.6" y1="7.0" x2="18.6" y2="102.2" stroke="#8f9ba6" stroke-width="1.4"/>
<polyline points="18.8,101.6 18.8,72.0 19.6,55.0 21.0,42.0 23.0,32.0 24.8,26.0 27.0,17.0 29.0,11.3 30.5,14.0 33.0,30.0 36.0,47.0 39.6,70.0 43.5,88.5 48.0,97.7 55.0,99.0 66.0,99.0 80.0,101.6 104.0,101.6" fill="none" stroke="#70ccf0" stroke-width="1.25" stroke-linejoin="round"/>
<polyline points="18.8,101.6 19.0,80.0 20.2,65.0 21.5,52.0 24.0,35.0 27.0,22.0 30.0,14.0 31.5,14.5 33.0,17.0 35.0,27.0 38.0,45.0 42.7,71.5 46.5,90.0 52.0,99.0 65.0,99.5 75.0,100.0 104.0,101.6" fill="none" stroke="#e3808a" stroke-width="1.25" stroke-linejoin="round"/>
<line x1="18.6" y1="102.2" x2="104.1" y2="102.2" stroke="#3d4f5a" stroke-width="1.2"/>
<rect x="27.6" y="102.2" width="9" height="1.2" fill="#222"/>
<path d="M126.5,102.4 V6.5 Q126.5,5.0 128.0,5.0 H204.6 Q206.1,5.0 206.1,6.5 V102.4" fill="none" stroke="#9c9c9c" stroke-width="1.3"/>
<line x1="126.5" y1="7.0" x2="126.5" y2="102.4" stroke="#9a9a9a" stroke-width="1.4"/>
<polyline points="134.8,101.8 136.3,93.0 137.8,73.0 139.4,50.0 141.5,26.0 143.6,14.1 145.0,26.0 146.0,52.5 147.0,80.8 149.4,96.0 151.7,101.8 206.0,101.8" fill="none" stroke="#70ccf0" stroke-width="1.25" stroke-linejoin="round"/>
<polyline points="126.8,101.8 127.0,86.0 127.8,79.0 130.2,65.4 132.5,50.0 134.5,33.0 135.9,26.0 137.5,20.0 139.1,14.1 140.8,19.0 143.6,33.0 145.5,50.0 147.0,80.8 149.4,96.0 151.7,100.0 160.0,101.8 206.0,101.8" fill="none" stroke="#e3808a" stroke-width="1.25" stroke-linejoin="round"/>
<line x1="126.5" y1="102.4" x2="206.1" y2="102.4" stroke="#3d4f5a" stroke-width="1.2"/>
<rect x="135.5" y="102.4" width="9" height="1.2" fill="#222"/>
<path d="M211.1,102.2 V6.5 Q211.1,5.0 212.6,5.0 H297.1 Q298.6,5.0 298.6,6.5 V102.2" fill="none" stroke="#9c9c9c" stroke-width="1.3"/>
<line x1="211.1" y1="7.0" x2="211.1" y2="102.2" stroke="#7fa8bd" stroke-width="1.4"/>
<polyline points="211.8,101.6 211.8,87.0 213.8,87.7 217.7,84.6 223.8,74.6 229.2,59.2 231.5,50.0 232.4,45.6 235.2,30.0 237.3,26.0 238.5,28.0 240.0,29.5 241.5,31.6 242.2,44.0 242.3,50.0 244.6,65.4 246.2,85.4 249.2,97.7 251.5,101.6 298.0,101.6" fill="none" stroke="#70ccf0" stroke-width="1.25" stroke-linejoin="round"/>
<polyline points="211.5,101.6 233.0,101.6 240.8,99.2 248.5,90.8 253.0,82.3 255.7,65.4 257.5,54.0 259.9,33.0 261.7,17.6 263.4,33.0 265.5,54.0 266.5,70.0 268.0,88.5 271.0,101.6 275.0,101.6 298.0,101.6" fill="none" stroke="#e3808a" stroke-width="1.25" stroke-linejoin="round"/>
<line x1="211.1" y1="102.2" x2="298.6" y2="102.2" stroke="#3d4f5a" stroke-width="1.2"/>
<rect x="220.1" y="102.2" width="9" height="1.2" fill="#222"/>
<path d="M303.3,102.0 V6.5 Q303.3,5.0 304.8,5.0 H393.1 Q394.6,5.0 394.6,6.5 V102.0" fill="none" stroke="#9c9c9c" stroke-width="1.3"/>
<line x1="303.3" y1="7.0" x2="303.3" y2="102.0" stroke="#7fa8bd" stroke-width="1.4"/>
<polyline points="303.8,101.4 303.8,74.0 308.2,77.0 311.2,79.2 314.3,77.0 317.4,74.6 322.0,73.0 325.0,67.0 328.2,60.8 329.7,50.0 332.0,37.2 334.9,26.7 337.7,34.4 340.5,17.6 342.6,29.5 344.0,40.0 345.0,50.0 346.6,62.3 348.2,77.7 351.2,91.5 355.8,99.0 360.4,101.4 394.0,101.4" fill="none" stroke="#70ccf0" stroke-width="1.25" stroke-linejoin="round"/>
<polyline points="303.8,75.4 303.8,99.0 306.6,101.4 317.4,99.0 325.0,97.0 331.0,93.8 335.8,88.5 338.9,80.8 342.0,70.0 344.3,59.2 347.4,50.0 349.2,41.4 352.7,34.4 354.1,26.0 356.2,20.4 358.3,17.6 359.7,26.0 361.1,40.0 362.7,50.0 364.2,65.4 365.8,80.8 368.0,96.0 370.4,101.4 394.0,101.4" fill="none" stroke="#e3808a" stroke-width="1.25" stroke-linejoin="round"/>
<line x1="303.3" y1="102.0" x2="394.6" y2="102.0" stroke="#3d4f5a" stroke-width="1.2"/>
<rect x="312.3" y="102.0" width="9" height="1.2" fill="#222"/>
<path d="M398.8,101.6 V6.3 Q398.8,4.8 400.3,4.8 H491.3 Q492.8,4.8 492.8,6.3 V101.6" fill="none" stroke="#9c9c9c" stroke-width="1.3"/>
<line x1="398.8" y1="6.8" x2="398.8" y2="101.6" stroke="#7fa8bd" stroke-width="1.4"/>
<polyline points="398.8,101.0 398.8,80.8 400.8,76.0 403.2,67.0 404.7,62.3 406.2,50.0 407.5,42.0 410.3,38.6 412.1,21.8 413.8,17.9 417.3,23.2 419.4,38.6 421.5,47.0 422.4,65.4 425.5,80.8 427.8,91.5 430.0,97.7 433.9,101.0 492.0,101.0" fill="none" stroke="#70ccf0" stroke-width="1.25" stroke-linejoin="round"/>
<polyline points="398.8,101.0 400.0,101.0 406.2,99.2 412.4,97.0 416.2,95.4 419.3,94.6 421.6,90.8 426.2,90.8 430.0,90.8 433.9,87.0 437.0,89.2 440.0,90.8 443.5,83.0 446.0,67.0 448.0,57.0 450.0,50.0 451.9,33.0 454.0,27.4 456.1,20.4 457.5,28.8 458.9,37.2 459.5,50.0 460.8,65.4 462.8,68.5 463.8,80.8 466.2,93.0 470.8,101.0 492.0,101.0" fill="none" stroke="#e3808a" stroke-width="1.25" stroke-linejoin="round"/>
<line x1="398.8" y1="101.6" x2="492.8" y2="101.6" stroke="#3d4f5a" stroke-width="1.2"/>
<rect x="407.8" y="101.6" width="9" height="1.2" fill="#222"/>
<path d="M213.1,203.8 V108.8 Q213.1,107.3 214.6,107.3 H297.4 Q298.9,107.3 298.9,108.8 V203.8" fill="none" stroke="#9c9c9c" stroke-width="1.3"/>
<line x1="213.1" y1="109.3" x2="213.1" y2="203.8" stroke="#9a9a9a" stroke-width="1.4"/>
<polyline points="213.1,203.2 213.0,186.4 213.3,190.2 215.3,188.7 217.5,181.0 219.8,169.0 221.3,154.0 222.4,146.7 224.5,143.8 227.4,131.4 229.6,136.5 231.8,146.7 232.6,154.0 234.9,166.0 237.9,184.2 241.7,194.7 244.7,199.2 247.7,199.2 252.2,203.2 259.8,203.2 298.0,203.2" fill="none" stroke="#70ccf0" stroke-width="1.25" stroke-linejoin="round"/>
<polyline points="213.0,203.2 219.0,200.8 222.0,203.2 226.6,199.2 231.1,194.7 237.1,188.7 241.7,182.7 243.9,185.7 246.2,190.2 249.2,185.7 250.7,176.6 252.2,166.0 253.6,156.9 255.8,145.2 259.0,136.5 260.9,146.7 262.4,156.9 262.8,169.0 264.3,187.2 266.6,199.2 268.9,203.2 298.0,203.2" fill="none" stroke="#e3808a" stroke-width="1.25" stroke-linejoin="round"/>
<line x1="213.1" y1="203.8" x2="298.9" y2="203.8" stroke="#3d4f5a" stroke-width="1.2"/>
<rect x="222.1" y="203.8" width="9" height="1.2" fill="#222"/>
<path d="M303.8,203.6 V107.9 Q303.8,106.4 305.3,106.4 H392.9 Q394.4,106.4 394.4,107.9 V203.6" fill="none" stroke="#9c9c9c" stroke-width="1.3"/>
<line x1="303.8" y1="108.4" x2="303.8" y2="203.6" stroke="#7fa8bd" stroke-width="1.4"/>
<polyline points="304.0,203.0 304.7,174.7 305.6,176.5 308.0,178.0 310.0,172.0 312.0,173.4 314.4,166.0 316.5,161.2 318.7,167.8 320.9,161.2 323.1,157.6 325.3,159.0 327.4,164.9 330.3,162.7 333.3,168.5 336.9,166.7 338.9,173.4 340.9,189.5 343.6,197.5 347.6,203.0 353.6,203.0 394.0,203.0" fill="none" stroke="#70ccf0" stroke-width="1.25" stroke-linejoin="round"/>
<polyline points="304.0,203.0 304.0,182.8 306.7,186.8 310.0,190.2 312.7,186.1 315.4,183.5 318.0,180.1 319.4,180.8 321.4,172.0 322.8,164.5 324.1,166.0 326.1,175.5 328.1,167.0 330.3,164.2 332.5,154.7 335.1,142.4 337.6,151.0 342.0,139.0 344.2,148.9 346.3,166.3 347.6,173.4 349.0,184.1 353.0,194.2 357.1,195.5 359.7,194.2 362.4,196.9 366.4,197.5 370.5,196.2 373.2,194.6 375.8,197.5 378.5,203.0 381.2,203.0 394.0,203.0" fill="none" stroke="#e3808a" stroke-width="1.25" stroke-linejoin="round"/>
<line x1="303.8" y1="203.6" x2="394.4" y2="203.6" stroke="#3d4f5a" stroke-width="1.2"/>
<rect x="312.8" y="203.6" width="9" height="1.2" fill="#222"/>
<path d="M398.3,203.6 V107.3 Q398.3,105.8 399.8,105.8 H491.2 Q492.7,105.8 492.7,107.3 V203.6" fill="none" stroke="#9c9c9c" stroke-width="1.3"/>
<line x1="398.3" y1="107.8" x2="398.3" y2="203.6" stroke="#7fa8bd" stroke-width="1.4"/>
<polyline points="398.5,203.0 399.0,194.9 401.7,196.2 405.0,190.8 407.7,188.8 410.4,184.1 413.1,179.4 415.1,182.1 417.8,177.4 420.5,168.0 422.4,160.7 424.6,149.0 427.5,138.9 428.5,140.0 429.7,138.2 431.9,141.8 434.0,157.8 435.9,173.4 437.2,190.8 439.2,203.0 441.2,203.0 492.0,203.0" fill="none" stroke="#70ccf0" stroke-width="1.25" stroke-linejoin="round"/>
<polyline points="398.5,203.0 399.7,197.5 401.0,198.9 403.0,196.9 405.7,194.2 409.0,198.2 411.7,194.9 414.4,190.2 417.1,186.8 419.1,180.1 420.5,172.1 421.8,168.0 423.8,172.1 425.3,152.0 427.5,141.8 429.0,130.9 431.2,127.3 433.3,136.0 435.1,141.8 436.2,156.3 437.9,180.1 439.9,194.9 442.6,203.0 444.7,203.0 454.7,203.0 458.8,200.2 462.8,198.2 465.5,200.9 468.2,203.0 492.0,203.0" fill="none" stroke="#e3808a" stroke-width="1.25" stroke-linejoin="round"/>
<line x1="398.3" y1="203.6" x2="492.7" y2="203.6" stroke="#3d4f5a" stroke-width="1.2"/>
<rect x="407.3" y="203.6" width="9" height="1.2" fill="#222"/>
<path d="M213.0,333.8 V237.5 Q213.0,236.0 214.5,236.0 H297.9 Q299.4,236.0 299.4,237.5 V333.8" fill="none" stroke="#9c9c9c" stroke-width="1.3"/>
<line x1="213.0" y1="238.0" x2="213.0" y2="333.8" stroke="#8a8a8a" stroke-width="1.4"/>
<polyline points="213.5,333.2 214.0,316.8 215.4,303.4 217.4,295.4 218.7,290.0 220.5,285.0 222.6,271.0 226.8,262.6 228.9,254.2 231.0,262.6 233.1,271.0 234.5,285.0 234.8,290.0 236.8,303.4 238.8,316.8 242.2,327.5 246.2,331.6 252.9,333.2 299.0,333.2" fill="none" stroke="#70ccf0" stroke-width="1.25" stroke-linejoin="round"/>
<polyline points="213.5,333.2 214.0,322.2 216.0,318.8 220.0,314.1 222.0,307.4 224.1,298.0 226.8,290.0 228.2,286.4 230.3,275.9 232.4,265.4 235.2,253.5 237.3,264.0 238.7,271.7 241.5,278.0 244.3,286.4 247.5,295.4 250.2,292.7 251.3,291.3 253.4,273.8 256.2,259.8 258.6,254.9 260.3,264.0 261.0,274.6 263.5,291.8 267.2,306.5 270.9,323.7 273.3,329.9 278.3,333.2 299.0,333.2" fill="none" stroke="#e3808a" stroke-width="1.25" stroke-linejoin="round"/>
<line x1="213.0" y1="333.8" x2="299.4" y2="333.8" stroke="#3d4f5a" stroke-width="1.2"/>
<rect x="222.0" y="333.8" width="9" height="1.2" fill="#222"/>
<path d="M303.3,334.4 V237.2 Q303.3,235.7 304.8,235.7 H392.5 Q394.0,235.7 394.0,237.2 V334.4" fill="none" stroke="#9c9c9c" stroke-width="1.3"/>
<line x1="303.3" y1="237.7" x2="303.3" y2="334.4" stroke="#7fa8bd" stroke-width="1.4"/>
<polyline points="303.8,333.8 304.0,306.0 307.4,303.4 311.4,307.4 315.4,298.7 319.4,302.7 322.8,298.0 324.1,290.0 325.1,284.4 326.5,268.3 327.9,267.6 329.3,276.7 331.4,266.2 332.5,258.5 333.5,265.5 336.3,270.4 338.4,273.9 340.5,278.8 342.6,290.0 344.0,297.0 344.9,306.1 346.9,322.2 348.9,327.5 352.9,331.6 356.0,333.8 394.0,333.8" fill="none" stroke="#70ccf0" stroke-width="1.25" stroke-linejoin="round"/>
<polyline points="303.6,333.8 303.6,307.4 304.0,328.9 307.4,329.5 311.4,330.9 315.4,328.9 318.8,326.2 322.1,326.9 326.8,324.2 328.8,320.2 330.8,314.8 333.5,307.4 336.2,305.4 338.9,300.7 341.5,294.0 341.9,289.3 344.7,289.3 346.8,297.0 349.0,304.7 351.7,312.8 355.7,319.5 359.7,323.5 361.8,325.1 363.8,320.8 365.8,316.8 367.8,306.1 369.5,292.8 370.9,276.0 372.3,265.5 376.0,260.9 378.3,262.7 379.3,276.0 380.7,290.0 381.9,303.4 383.2,316.8 385.2,328.9 387.2,333.8 394.0,333.8" fill="none" stroke="#e3808a" stroke-width="1.25" stroke-linejoin="round"/>
<line x1="303.3" y1="334.4" x2="394.0" y2="334.4" stroke="#3d4f5a" stroke-width="1.2"/>
<rect x="312.3" y="334.4" width="9" height="1.2" fill="#222"/>
<path d="M398.6,333.2 V236.3 Q398.6,234.8 400.1,234.8 H491.5 Q493.0,234.8 493.0,236.3 V333.2" fill="none" stroke="#9c9c9c" stroke-width="1.3"/>
<line x1="398.6" y1="236.8" x2="398.6" y2="333.2" stroke="#9a9a9a" stroke-width="1.4"/>
<polyline points="399.0,332.6 399.0,296.7 399.7,324.9 401.0,326.2 403.0,316.8 404.4,303.4 405.4,299.0 405.7,290.0 407.5,278.0 408.9,264.0 409.9,254.9 412.4,258.4 414.5,271.0 415.8,290.0 416.6,292.0 417.8,310.1 419.1,320.8 421.1,328.9 423.8,332.6 430.0,332.6 493.0,332.6" fill="none" stroke="#70ccf0" stroke-width="1.25" stroke-linejoin="round"/>
<polyline points="399.0,332.6 400.4,332.6 403.0,330.2 405.7,323.5 408.4,318.2 410.4,314.8 412.4,307.4 414.4,304.7 415.8,302.1 417.1,298.0 418.4,300.7 420.5,305.4 422.5,306.8 423.8,308.8 425.8,316.8 428.5,323.5 431.2,326.9 433.9,325.5 436.5,323.5 439.9,324.2 442.6,318.2 444.6,311.4 446.0,296.7 447.4,274.6 449.3,267.2 450.5,266.0 452.3,259.8 454.3,268.4 456.0,277.0 457.2,299.1 459.7,316.3 462.1,326.2 465.8,332.6 470.0,332.6 493.0,332.6" fill="none" stroke="#e3808a" stroke-width="1.25" stroke-linejoin="round"/>
<line x1="398.6" y1="333.2" x2="493.0" y2="333.2" stroke="#3d4f5a" stroke-width="1.2"/>
<rect x="407.6" y="333.2" width="9" height="1.2" fill="#222"/>
<g font-size="13.6" fill="#000" stroke="#000" stroke-width="0.5">
<text x="55.4" y="19.6" textLength="40.4" lengthAdjust="spacingAndGlyphs">CD115</text>
<text x="160.2" y="19.8" textLength="40.3" lengthAdjust="spacingAndGlyphs">CD11c</text>
<text x="255.1" y="20.1" textLength="34.0" lengthAdjust="spacingAndGlyphs">CD34</text>
<text x="348.6" y="20.1" textLength="42.4" lengthAdjust="spacingAndGlyphs">CD135</text>
<text x="451.3" y="20.1" textLength="34.0" lengthAdjust="spacingAndGlyphs">F4/80</text>
<text x="255.2" y="122.4" textLength="33.1" lengthAdjust="spacingAndGlyphs">CD31</text>
<text x="349.4" y="122.4" textLength="40.9" lengthAdjust="spacingAndGlyphs">CD11b</text>
<text x="455.5" y="122.2" textLength="25.2" lengthAdjust="spacingAndGlyphs">Gr-1</text>
<text x="254.9" y="251.4" textLength="33.4" lengthAdjust="spacingAndGlyphs">CD31</text>
<text x="349.6" y="251.4" textLength="41.2" lengthAdjust="spacingAndGlyphs">CD11b</text>
<text x="455.5" y="251.4" textLength="25.4" lengthAdjust="spacingAndGlyphs">Gr-1</text>
</g>
<g fill="#000" stroke="#000" stroke-width="0.4">
<text transform="translate(14.8 189.4) rotate(-90)" font-size="15.6" textLength="47.4" lengthAdjust="spacingAndGlyphs">EPCR</text>
<text transform="translate(14.6 322.0) rotate(-90)" font-size="15.6" textLength="46.4" lengthAdjust="spacingAndGlyphs">EPCR</text>
<text transform="translate(123.6 175.5) rotate(-90)" font-size="14.5" textLength="32.5" lengthAdjust="spacingAndGlyphs">c-kit</text>
<text transform="translate(123.4 307.2) rotate(-90)" font-size="14.5" textLength="32.9" lengthAdjust="spacingAndGlyphs">c-kit</text>
<text transform="translate(515.8 143.3) rotate(-90)" font-size="21" textLength="72.3" lengthAdjust="spacingAndGlyphs">no LPS</text>
<text transform="translate(516.8 302.6) rotate(-90)" font-size="20.5" textLength="38.6" lengthAdjust="spacingAndGlyphs">LPS</text>
</g>
<text x="44.4" y="220.3" font-size="14.5" textLength="36.5" lengthAdjust="spacingAndGlyphs" fill="#000" stroke="#000" stroke-width="0.6">sca-1</text>
<text x="146.5" y="220.3" font-size="14.5" textLength="36.8" lengthAdjust="spacingAndGlyphs" fill="#000" stroke="#000" stroke-width="0.6">sca-1</text>
<text x="45.3" y="351.6" font-size="14.5" textLength="35.8" lengthAdjust="spacingAndGlyphs" fill="#000" stroke="#000" stroke-width="0.6">sca-1</text>
<text x="147.1" y="352.5" font-size="14.5" textLength="36.0" lengthAdjust="spacingAndGlyphs" fill="#000" stroke="#000" stroke-width="0.6">sca-1</text>
<path d="M7.3,118 L10.9,127.8 L8.2,126 L8.2,135.8 L6.3999999999999995,135.8 L6.3999999999999995,126 L3.6999999999999997,127.8 Z" fill="#000"/>
<path d="M7.4,251.3 L11.0,261.1 L8.3,259.3 L8.3,268.2 L6.5,268.2 L6.5,259.3 L3.8000000000000003,261.1 Z" fill="#000"/>
<path d="M117.1,119.2 L120.69999999999999,129.0 L118.0,127.2 L118.0,135.1 L116.19999999999999,135.1 L116.19999999999999,127.2 L113.5,129.0 Z" fill="#000"/>
<path d="M117.1,250.9 L120.69999999999999,260.7 L118.0,258.9 L118.0,266.8 L116.19999999999999,266.8 L116.19999999999999,258.9 L113.5,260.7 Z" fill="#000"/>
<path d="M82.8,213.6 L85.39999999999999,213.6 L84.0,211.1 L94.3,215.1 L83.89999999999999,219.0 L85.39999999999999,216.6 L82.8,216.6 Z" fill="#000"/>
<path d="M83.0,346.1 L85.6,346.1 L84.2,343.6 L94.0,347.6 L84.1,351.5 L85.6,349.1 L83.0,349.1 Z" fill="#000"/>
<path d="M184.9,213.1 L194.3,213.1 L192.60000000000002,210.29999999999998 L202.8,214.1 L192.60000000000002,217.9 L194.3,215.1 L184.9,215.1 Z" fill="#000"/>
<path d="M184.4,346.2 L194.5,346.2 L192.8,343.4 L203,347.2 L192.8,351.0 L194.5,348.2 L184.4,348.2 Z" fill="#000"/>
<path d="M6.3,199.8 V214.9 H30.5" fill="none" stroke="#000" stroke-width="2"/>
<path d="M116.2,189.1 V213.7 H132.6" fill="none" stroke="#000" stroke-width="2"/>
<path d="M7.0,333 V346.3 H31" fill="none" stroke="#000" stroke-width="2"/>
<path d="M116.4,321.7 V345.6 H132.5" fill="none" stroke="#000" stroke-width="2"/>
</svg></body></html>
